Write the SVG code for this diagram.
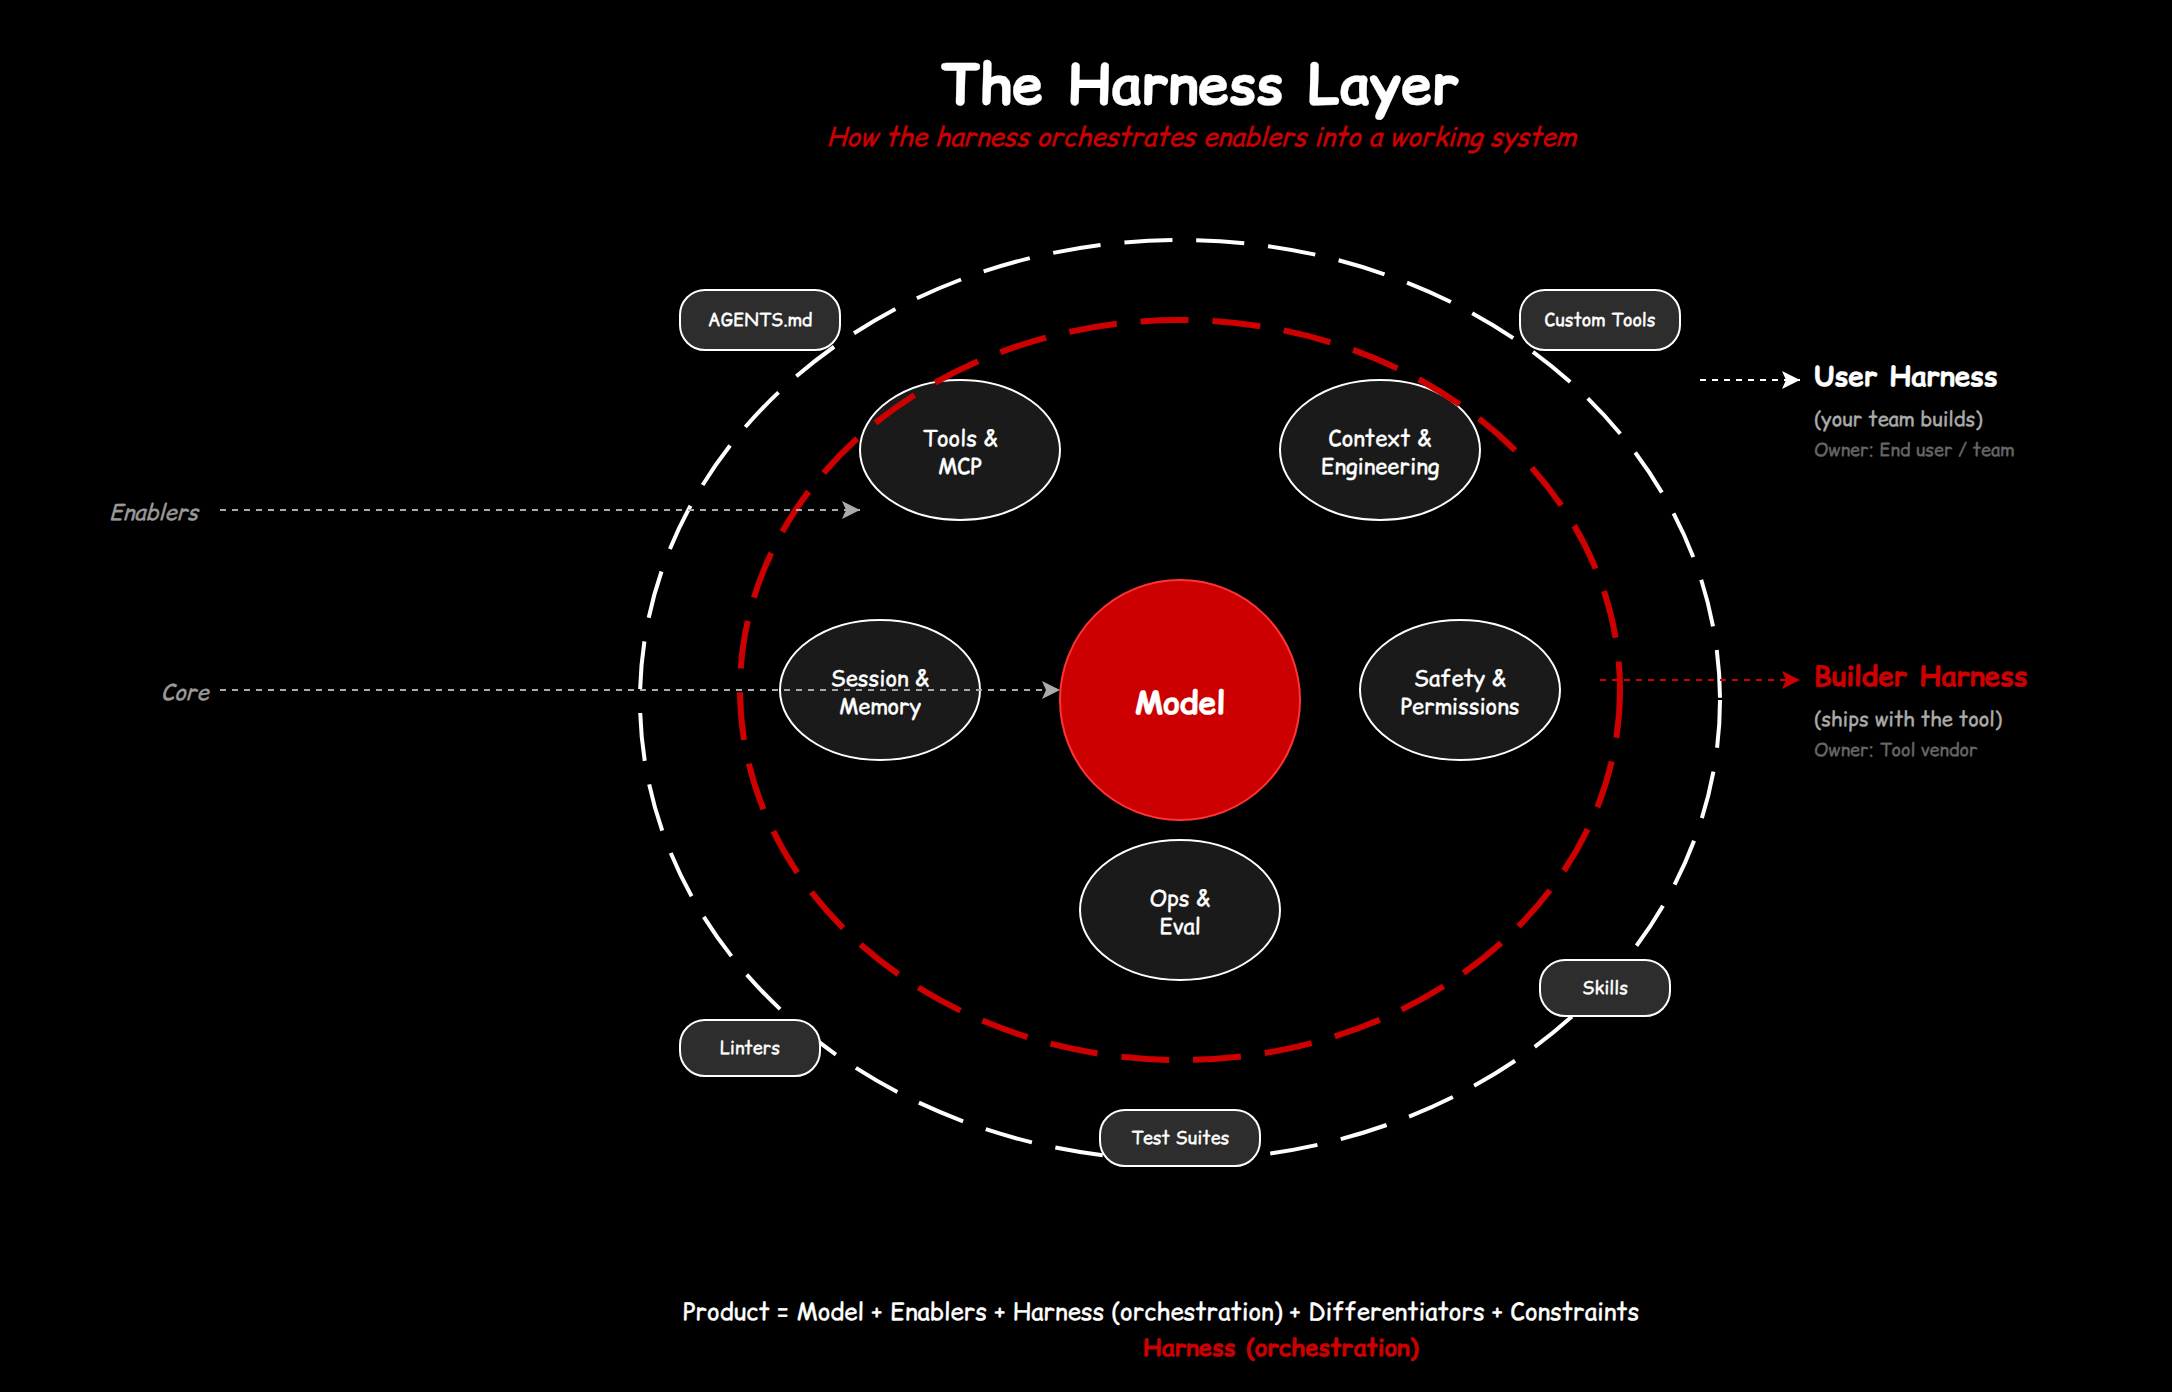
<svg xmlns="http://www.w3.org/2000/svg" width="2172" height="1392" viewBox="0 0 2172 1392">
<style>
text{font-family:"Comic Relief","Comic Neue",cursive,sans-serif;text-rendering:geometricPrecision;fill:currentColor;stroke:currentColor;stroke-width:.35px;color:#fff}
.m{text-anchor:middle}
.enb ellipse{fill:#1a1a1a;stroke:#fff;stroke-width:2}
.enb text{font-size:22px;text-anchor:middle}
.pill rect{fill:#2d2d2d;stroke:#fff;stroke-width:2}
.pill text{font-size:18px;text-anchor:middle}
.ring{fill:none;stroke-dasharray:48 24}
.h{font-size:28px;font-weight:700}
.s{font-size:20px;color:#aaa}
.o{font-size:18px;color:#666}
.i{font-size:22px;font-style:italic;color:#999}
.c{fill:none;stroke-width:2;stroke-dasharray:6 6}
.r{color:#c00}
</style>
<defs>
<marker id="ag" markerUnits="userSpaceOnUse" markerWidth="18" markerHeight="18" refX="18" refY="9" orient="auto"><path d="M0 0L18 9L0 18L4 9Z" fill="#aaa"/></marker>
<marker id="aw" markerUnits="userSpaceOnUse" markerWidth="18" markerHeight="18" refX="18" refY="9" orient="auto"><path d="M0 0L18 9L0 18L4 9Z" fill="#fff"/></marker>
<marker id="ar" markerUnits="userSpaceOnUse" markerWidth="18" markerHeight="18" refX="18" refY="9" orient="auto"><path d="M0 0L18 9L0 18L4 9Z" fill="#c00"/></marker>
</defs>
<rect width="2172" height="1392" fill="#000"/>
<text id="title" class="m" x="1200" y="104" font-size="56" font-weight="700">The Harness Layer</text>
<text id="subtitle" class="m r" x="1201" y="146" font-size="26" font-style="italic">How the harness orchestrates enablers into a working system</text>
<g id="enablers" class="enb">
<g id="tools"><ellipse cx="960" cy="450" rx="100" ry="70"/><text x="960" y="446">Tools &amp;</text><text x="960" y="474">MCP</text></g>
<g id="context"><ellipse cx="1380" cy="450" rx="100" ry="70"/><text x="1380" y="446">Context &amp;</text><text x="1380" y="474">Engineering</text></g>
<g id="session"><ellipse cx="880" cy="690" rx="100" ry="70"/><text x="880" y="686">Session &amp;</text><text x="880" y="714">Memory</text></g>
<g id="safety"><ellipse cx="1460" cy="690" rx="100" ry="70"/><text x="1460" y="686">Safety &amp;</text><text x="1460" y="714">Permissions</text></g>
<g id="ops"><ellipse cx="1180" cy="910" rx="100" ry="70"/><text x="1180" y="906">Ops &amp;</text><text x="1180" y="934">Eval</text></g>
</g>
<ellipse id="user-harness-ring" class="ring" cx="1180" cy="700" rx="540" ry="460" stroke="#fff" stroke-width="4"/>
<ellipse id="builder-harness-ring" class="ring" cx="1180" cy="690" rx="440" ry="370" stroke="#c00" stroke-width="6"/>
<g id="model"><circle cx="1180" cy="700" r="120" fill="#c00" stroke="#ff3333" stroke-width="2"/><text class="m" x="1180" y="714" font-size="32" font-weight="700">Model</text></g>
<g id="agents" class="pill"><rect x="680" y="290" width="160" height="60" rx="25"/><text x="760" y="326">AGENTS.md</text></g>
<g id="custom" class="pill"><rect x="1520" y="290" width="160" height="60" rx="25"/><text x="1600" y="326">Custom Tools</text></g>
<g id="skills" class="pill"><rect x="1540" y="960" width="130" height="56" rx="25"/><text x="1605" y="994">Skills</text></g>
<g id="linters" class="pill"><rect x="680" y="1020" width="140" height="56" rx="25"/><text x="750" y="1054">Linters</text></g>
<g id="tests" class="pill"><rect x="1100" y="1110" width="160" height="56" rx="25"/><text x="1180" y="1144">Test Suites</text></g>
<g id="connectors">
<path class="c" d="M220 510H860" stroke="#aaa" marker-end="url(#ag)"/>
<path class="c" d="M220 690H1060" stroke="#aaa" marker-end="url(#ag)"/>
<path class="c" d="M1700 380H1800" stroke="#fff" marker-end="url(#aw)"/>
<path class="c" d="M1600 680H1800" stroke="#c00" marker-end="url(#ar)"/>
</g>
<g id="labels">
<text class="i" x="109" y="520">Enablers</text>
<text class="i" x="161" y="700">Core</text>
<text class="h" x="1814" y="386">User Harness</text>
<text class="s" x="1814" y="426">(your team builds)</text>
<text class="o" x="1814" y="456">Owner: End user / team</text>
<text class="h r" x="1814" y="686">Builder Harness</text>
<text class="s" x="1814" y="726">(ships with the tool)</text>
<text class="o" x="1814" y="756">Owner: Tool vendor</text>
<text x="683" y="1320" font-size="24">Product = Model + Enablers + Harness (orchestration) + Differentiators + Constraints</text>
<text class="r" x="1143" y="1356" font-size="24" font-weight="700">Harness (orchestration)</text>
</g>
</svg>
